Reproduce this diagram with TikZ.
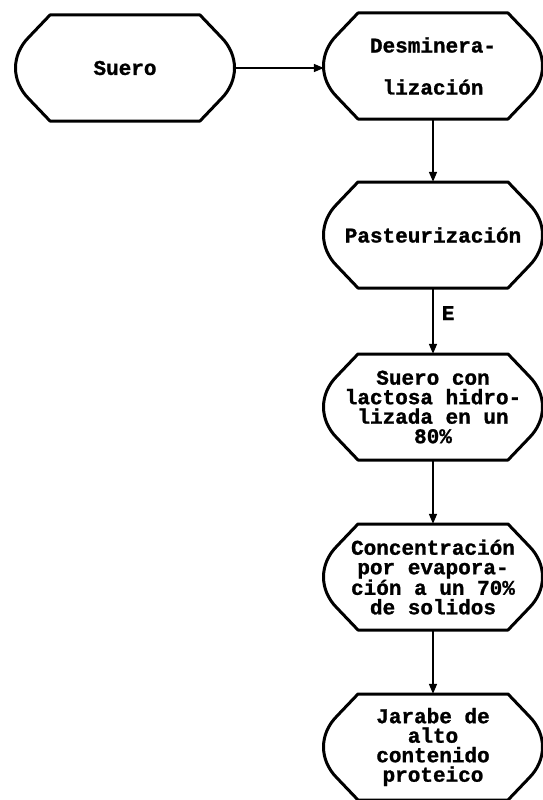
\documentclass[tikz,border=0pt]{standalone}
\usepackage{fontspec}
\newfontfamily\stagefont{Liberation Mono Bold}[FakeBold=1.2]
\usetikzlibrary{arrows.meta}

% outline of a process stage: flat top and bottom, chamfered ends with rounded sides
\newcommand\stageoutline[1]{%
  \draw[outline,shift={(#1.center)}]
    (-75,-53) -- (75,-53) -- (96,-31)
    .. controls (114,-13) and (114,13) .. (96,31)
    -- (75,53) -- (-75,53) -- (-96,31)
    .. controls (-114,13) and (-114,-13) .. (-96,-31) -- cycle;}

\begin{document}
\begin{tikzpicture}[x=1pt,y=-1pt,
  stage/.style={minimum width=218pt,minimum height=106pt,inner sep=0pt,align=center,
    font=\stagefont\fontsize{21}{19.5}\selectfont},
  wide/.style={font=\stagefont\fontsize{21}{42}\selectfont},
  outline/.style={line width=3pt,line join=round},
  flow/.style={line width=1.6pt,-{Triangle[length=10pt,width=8pt]}},
  tag/.style={inner sep=0pt,font=\stagefont\fontsize{21}{21}\selectfont}]
\useasboundingbox (0,0) rectangle (543,800);

\node[stage] (suero) at (125,68) {Suero};
\node[stage,wide] (desmin) at (433,66) {Desminera-\\lización};
\node[stage] (pasteur) at (433,235) {Pasteurización};
\node[stage] (hidrol) at (433,407) {Suero con\\lactosa hidro-\\lizada en un\\80\%};
\node[stage] (concen) at (433,577) {Concentración\\por evapora-\\ción a un 70\%\\de solidos};
\node[stage] (jarabe) at (433,747) {Jarabe de\\alto\\contenido\\proteico};

\foreach \n in {suero,desmin,pasteur,hidrol,concen,jarabe} {\stageoutline{\n}}

\draw[flow] (suero.east) -- (desmin.west |- suero.east);
\draw[flow] (desmin.south) -- (pasteur.north);
\draw[flow] (pasteur.south) -- node[tag,pos=0.38,right=8pt] (etag) {E} (hidrol.north);
\draw[flow] (hidrol.south) -- (concen.north);
\draw[flow] (concen.south) -- (jarabe.north);
\end{tikzpicture}
\end{document}
